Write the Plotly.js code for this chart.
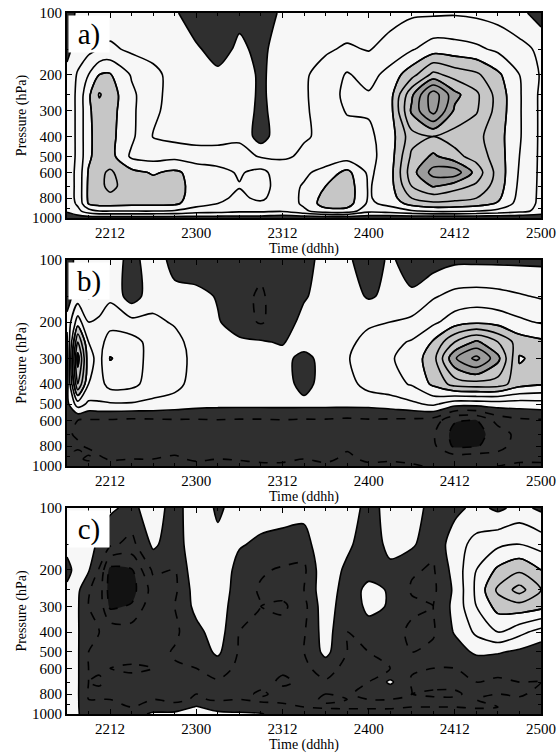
<!DOCTYPE html>
<html>
<head>
<meta charset="utf-8">
<script src="https://cdn.plot.ly/plotly-3.0.1.min.js"></script>
<style>
  html, body { margin: 0; padding: 0; background: #ffffff; }
  #chart { width: 557px; height: 753px; }
</style>
</head>
<body>
<div id="chart"></div>
<script>
// Time axis: hours after 2200 (ddhh), pressure levels in hPa
const hours = [6, 7.5, 9, 10.5, 12, 15, 18, 21, 24, 27, 30, 33, 36, 39, 42, 45, 48, 51, 54, 57, 60, 63, 66, 69, 72];
const pressure = [100, 150, 200, 250, 300, 400, 500, 600, 700, 800, 850, 925, 1000];

const timeTickHours = [12, 24, 36, 48, 60, 72];
const timeTickLabels = ['2212', '2300', '2312', '2400', '2412', '2500'];
const pressureTicks = [100, 200, 300, 400, 500, 600, 800, 1000];
const panelLabels = ['a)', 'b)', 'c)'];

// Each field: one column per entry of `hours`, values ordered as `pressure`
const fieldA = [
  [-0.8, -0.3, 0.3, 0.4, 0.4, 0.4, 0.4, 0.4, 0.4, 0.4, 0.3, 0.1, -0.5],
  [0.3, 0.5, 1.1, 1.2, 1.2, 1.2, 1.2, 1.3, 1.3, 1.3, 1.2, 0.7, -0.5],
  [0.3, 0.7, 2.0, 2.8, 2.8, 2.8, 2.8, 3.1, 3.2, 3.2, 3.1, 1.6, -0.5],
  [0.4, 1.05, 3.0, 4.1, 3.6, 3.4, 3.5, 3.8, 3.8, 3.6, 3.4, 2.0, -0.5],
  [0.3, 1.2, 3.1, 3.5, 3.4, 3.3, 3.4, 4.15, 4.2, 3.8, 3.4, 2.0, -0.5],
  [0.2, 0.8, 1.9, 2.2, 2.2, 2.2, 1.8, 3.3, 3.6, 3.5, 3.3, 2.0, -0.5],
  [0.2, 0.6, 1.3, 1.3, 1.2, 0.95, 1.6, 2.9, 3.4, 3.4, 3.3, 2.0, -0.5],
  [0.2, 0.4, 0.6, 0.6, 0.6, 0.7, 1.7, 3.2, 3.3, 3.3, 3.2, 1.9, -0.5],
  [-0.9, 0.2, 0.5, 0.5, 0.5, 0.6, 1.5, 2.6, 2.7, 2.6, 2.4, 1.5, -0.5],
  [-0.95, -0.6, 0.3, 0.5, 0.5, 0.6, 1.5, 2.3, 2.3, 2.2, 2.0, 1.4, -0.5],
  [-0.4, 0.3, 0.9, 0.9, 0.9, 0.8, 1.4, 1.9, 2.05, 1.8, 1.6, 1.2, -0.5],
  [-0.9, -0.4, -0.3, -0.3, -0.4, -0.5, 0.9, 2.3, 2.4, 2.2, 1.8, 1.2, -0.5],
  [0.3, 0.8, 0.9, 0.9, 0.9, 0.8, 0.9, 1.4, 1.5, 1.4, 1.3, 1.1, -0.7],
  [0.4, 0.8, 0.9, 0.9, 0.9, 0.95, 1.1, 1.8, 2.1, 2.2, 2.2, 1.8, -0.7],
  [0.4, 0.9, 1.3, 1.4, 1.3, 1.1, 1.3, 2.4, 3.0, 3.4, 3.5, 2.6, -0.7],
  [0.5, 1.1, 2.1, 2.3, 2.1, 1.5, 1.5, 3.3, 3.6, 3.6, 3.5, 2.6, -0.7],
  [0.6, 0.95, 1.6, 2.1, 2.1, 1.8, 1.7, 1.8, 1.9, 1.9, 1.8, 1.3, -0.7],
  [0.7, 1.3, 2.4, 2.6, 2.6, 2.5, 2.5, 2.6, 2.6, 2.5, 2.3, 1.5, -0.8],
  [0.85, 1.9, 3.6, 5.8, 6.2, 4.6, 5.2, 5.6, 5.0, 4.0, 3.4, 1.9, -0.8],
  [0.85, 2.5, 5.3, 8.6, 8.4, 5.0, 6.2, 7.4, 6.1, 4.5, 3.8, 2.2, -0.8],
  [0.9, 2.4, 4.6, 6.3, 5.8, 4.6, 5.3, 7.6, 5.4, 4.3, 3.7, 2.2, -0.8],
  [0.8, 2.2, 4.2, 5.2, 5.1, 4.3, 4.6, 5.6, 4.8, 4.0, 3.5, 2.0, -0.8],
  [0.6, 1.8, 3.2, 3.6, 3.6, 3.4, 3.5, 3.6, 3.5, 3.2, 2.9, 1.7, -0.8],
  [0.3, 1.3, 2.0, 2.1, 2.1, 2.1, 2.0, 1.9, 1.8, 1.7, 1.6, 1.3, -0.8],
  [-0.5, 0.8, 0.9, 0.8, 0.8, 0.8, 0.8, 0.8, 0.8, 0.8, 0.8, 0.7, -0.8]
];

const fieldB = [
  [-0.3, -0.3, 0.2, -0.2, -0.5, -0.5, -0.3, -0.8, -0.9, -0.9, -0.9, -0.8, -0.6],
  [0.2, 0.4, 2.5, 5.0, 6.5, 5.0, 1.5, -1.0, -1.1, -0.9, -1.05, -0.9, -0.6],
  [0.3, -0.1, 1.0, 2.0, 2.3, 2.0, 0.8, -1.1, -1.2, -1.1, -0.9, -1.1, -0.7],
  [0.5, 0.3, 1.2, 1.6, 1.7, 1.6, 0.9, -1.1, -1.0, -1.2, -1.1, -0.9, -0.7],
  [0.8, 0.8, 1.6, 2.5, 3.05, 2.4, 0.9, -1.1, -1.2, -1.1, -1.2, -1.05, -0.8],
  [-0.5, -0.5, 1.3, 2.4, 2.6, 2.3, 0.9, -1.2, -1.3, -1.2, -1.1, -1.0, -0.8],
  [0.8, 0.6, 1.2, 1.6, 1.5, 1.5, 0.8, -1.15, -1.2, -1.3, -1.2, -1.0, -0.8],
  [-0.5, 0.4, 0.9, 1.3, 1.4, 1.3, 0.6, -1.1, -1.3, -1.2, -1.1, -0.9, -0.8],
  [-0.9, 0.4, 0.5, 0.6, 0.7, 0.6, 0.4, -1.1, -1.2, -1.3, -1.2, -1.1, -0.8],
  [-0.2, -0.1, 0.1, 0.5, 0.6, 0.5, 0.3, -1.05, -1.2, -1.2, -1.1, -1.0, -0.8],
  [-0.8, -0.8, -0.6, 0.2, 0.5, 0.5, 0.3, -1.1, -1.3, -1.2, -1.1, -1.05, -0.8],
  [-0.8, -1.1, -1.1, 0.1, 0.5, 0.5, 0.3, -1.1, -1.2, -1.3, -1.2, -1.1, -0.9],
  [-0.6, -0.6, -0.5, -0.1, 0.4, 0.5, 0.3, -1.05, -1.1, -1.2, -1.2, -1.1, -0.9],
  [-0.3, -0.1, 0.3, 0.6, -0.4, -0.4, 0.3, -1.1, -1.2, -1.2, -1.1, -1.0, -0.8],
  [0.3, 0.4, 0.5, 0.5, 0.5, 0.5, 0.3, -1.1, -1.3, -1.2, -1.2, -1.1, -0.9],
  [0.3, 0.4, 0.5, 0.7, 0.9, 0.6, 0.3, -1.2, -1.3, -1.1, -1.0, -0.9, -0.8],
  [-0.9, -0.1, 0.8, 1.4, 1.7, 1.4, 0.3, -1.1, -1.2, -1.0, -1.2, -1.1, -0.9],
  [0.3, 0.2, 1.0, 1.7, 1.9, 1.6, 0.5, -1.15, -1.3, -1.2, -1.1, -1.05, -0.9],
  [-0.9, 0.3, 1.2, 2.1, 2.4, 2.1, 0.8, -1.2, -1.4, -1.3, -1.2, -1.1, -0.95],
  [-0.5, 0.9, 1.8, 3.1, 3.6, 3.2, 1.2, -1.4, -1.9, -1.8, -1.5, -1.2, -1.05],
  [-0.2, 1.3, 2.5, 5.0, 6.9, 4.4, 0.4, -2.9, -3.4, -3.2, -2.4, -1.4, -1.1],
  [-0.2, 1.4, 2.8, 6.2, 8.3, 4.6, 0.4, -3.05, -3.3, -3.1, -2.2, -1.5, -1.1],
  [-0.2, 1.3, 2.6, 5.0, 6.3, 4.5, 0.5, -1.6, -2.6, -2.4, -2.0, -1.3, -1.0],
  [-0.2, 1.1, 2.2, 3.5, 2.9, 3.4, 0.5, -1.2, -1.6, -1.5, -1.3, -1.1, -0.9],
  [-0.2, 0.9, 1.9, 3.2, 3.3, 3.1, 0.6, -1.1, -1.3, -1.3, -1.2, -1.1, -0.9]
];

const fieldC = [
  [0.5, 0.3, -0.3, 0.2, 0.5, 0.3, 0.5, 0.5, 0.5, 0.5, 0.5, 0.5, 0.3],
  [0.6, 0.5, 0.4, 0.2, 0.1, 0.1, 0.1, 0.1, 0.1, 0.1, 0.1, 0.1, 0.1],
  [0.6, 0.4, 0.1, -0.9, -1.0, -0.9, -1.0, -1.0, -1.0, -1.1, -1.0, -0.9, -0.6],
  [0.5, -0.2, -1.1, -1.5, -1.4, -1.0, -1.1, -1.1, -0.9, -1.2, -1.0, -0.8, -0.5],
  [0.2, -0.8, -3.3, -3.5, -3.2, -1.3, -1.2, -1.0, -1.2, -1.3, -1.0, -0.9, -0.4],
  [-0.3, -1.3, -3.1, -3.4, -2.9, -1.5, -1.3, -0.9, -1.2, -1.0, -1.3, -1.0, -0.5],
  [0.6, 0.2, -0.8, -1.6, -1.3, -1.1, -1.4, -1.0, -1.3, -1.2, -1.0, -0.6, 0.2],
  [-0.5, -0.6, -1.0, -1.2, -1.0, -1.2, -0.9, -1.1, -1.4, -1.1, -1.2, -0.7, 0.3],
  [0.8, 0.8, 0.7, 0.5, 0.3, -0.3, -0.6, -1.0, -1.2, -1.0, -0.9, 0.1, 0.3],
  [-0.2, 0.3, 0.8, 0.8, 0.7, 0.5, 0.2, -0.6, -1.1, -1.0, -1.1, -0.5, 0.3],
  [0.5, 0.1, -0.4, -0.6, -0.8, -1.0, -1.1, -1.2, -1.0, -1.2, -1.0, -0.6, 0.2],
  [0.5, -0.2, -0.9, -1.1, -1.0, -1.3, -1.1, -1.0, -1.2, -0.9, -1.1, -0.8, 0.1],
  [0.5, -0.4, -1.1, -1.2, -0.9, -1.2, -1.0, -1.1, -0.9, -1.2, -1.1, -0.9, -0.6],
  [0.4, -0.5, -1.2, -1.0, -1.3, -1.1, -1.0, -1.2, -1.1, -1.0, -1.2, -1.0, -0.7],
  [0.95, 0.95, 0.9, 0.8, 0.7, 0.5, 0.3, -0.6, -1.1, -1.0, -0.9, -1.1, -0.6],
  [0.8, 0.3, -0.3, -0.6, -0.8, -1.0, -1.0, -1.3, -1.1, -1.2, -1.0, -1.1, -0.7],
  [-0.5, -0.8, -0.4, 0.3, 0.3, -0.5, -1.0, -1.1, -1.0, -0.5, -1.0, -1.1, -0.7],
  [0.5, 0.4, -0.3, -0.1, -0.1, -0.6, -0.9, -1.0, 0.2, -0.8, -1.0, -1.1, -0.7],
  [0.5, 0.2, -0.9, -1.1, -0.8, -1.2, -1.0, -0.9, -1.1, -1.0, -1.2, -1.0, -0.7],
  [-0.4, -0.8, -1.1, -1.2, -1.0, -1.1, -0.8, -1.0, -1.2, -0.9, -1.1, -1.0, -0.6],
  [-0.3, 0.6, 0.4, 0.2, 0.3, 0.1, -0.5, -1.0, -1.2, -0.9, -1.1, -1.0, -0.6],
  [0.3, 1.3, 2.0, 2.2, 2.0, 1.2, 0.2, -0.8, -1.0, -1.2, -1.0, -1.1, -0.6],
  [-0.2, 1.8, 3.2, 4.2, 3.4, 2.0, 0.1, -0.8, -1.1, -1.0, -0.8, -1.0, -0.6],
  [0.3, 2.0, 3.8, 5.4, 3.6, 1.3, -0.2, -0.6, -1.0, -1.1, -0.9, -0.8, -0.6],
  [-0.2, 1.6, 3.0, 4.0, 3.3, 0.6, -0.6, -0.8, -1.0, -0.8, -1.0, -0.7, -0.6]
];

const fields = [fieldA, fieldB, fieldC];

const SERIF = 'Liberation Serif';
const SMOOTH = 0.8;
const LINE_W = 1.6;

// Shading: the constraint trace shades the region that fails the test,
// so "shade below v" uses '>' and "shade above v" uses '<'.
function shadeTrace(z, xa, ya, side, value, color, dash) {
  return {
    type: 'contour', x: hours, y: pressure, z: z, transpose: true,
    xaxis: xa, yaxis: ya, showscale: false, hoverinfo: 'skip',
    contours: { type: 'constraint', operation: side === 'below' ? '>' : '<', value: value },
    fillcolor: color,
    line: { color: '#000000', width: LINE_W, dash: dash || 'solid', smoothing: SMOOTH }
  };
}

function lineTrace(z, xa, ya, start, end, dash) {
  return {
    type: 'contour', x: hours, y: pressure, z: z, transpose: true,
    xaxis: xa, yaxis: ya, showscale: false, hoverinfo: 'skip',
    autocontour: false,
    contours: { coloring: 'none', start: start, end: end, size: 1, showlabels: false },
    line: { color: '#000000', width: LINE_W, dash: dash, smoothing: SMOOTH }
  };
}

const traces = [];
fields.forEach((z, i) => {
  const xa = i === 0 ? 'x' : 'x' + (i + 1);
  const ya = i === 0 ? 'y' : 'y' + (i + 1);
  traces.push(shadeTrace(z, xa, ya, 'below', 0, '#2f2f2f', 'solid'));
  traces.push(shadeTrace(z, xa, ya, 'below', -3, '#121212', 'dash'));
  traces.push(shadeTrace(z, xa, ya, 'above', 3, '#c6c6c6', 'solid'));
  traces.push(shadeTrace(z, xa, ya, 'above', 6, '#9b9b9b', 'solid'));
  traces.push(lineTrace(z, xa, ya, 1, 9, 'solid'));
  traces.push(lineTrace(z, xa, ya, -2, -1, 'dash'));
});

function xAxis(anchor) {
  return {
    anchor: anchor, domain: [0, 1], range: [6, 72],
    tickmode: 'array', tickvals: timeTickHours, ticktext: timeTickLabels,
    ticks: 'inside', ticklen: 5, tickwidth: 1, tickcolor: '#000',
    minor: { tickmode: 'linear', tick0: 0, dtick: 3, ticks: 'inside', ticklen: 3, tickcolor: '#000' },
    showline: true, linecolor: '#000', linewidth: 2, mirror: 'ticks',
    showgrid: false, zeroline: false,
    tickfont: { family: SERIF, size: 15, color: '#000' },
    title: { text: 'Time (ddhh)', font: { family: SERIF, size: 14, color: '#000' }, standoff: 0 }
  };
}

function yAxis(anchor, domain) {
  return {
    anchor: anchor, domain: domain, type: 'log', range: [3, 2],
    tickmode: 'array', tickvals: pressureTicks, ticktext: pressureTicks.map(String),
    ticks: 'inside', ticklen: 5, tickwidth: 1, tickcolor: '#000',
    minor: { tickmode: 'array', tickvals: [150, 250, 700, 900], ticks: 'inside', ticklen: 3, tickcolor: '#000' },
    showline: true, linecolor: '#000', linewidth: 2, mirror: 'ticks',
    showgrid: false, zeroline: false,
    tickfont: { family: SERIF, size: 15, color: '#000' },
    title: { text: 'Pressure (hPa)', font: { family: SERIF, size: 14, color: '#000' }, standoff: 2 }
  };
}

const annotations = panelLabels.map((label, i) => ({
  xref: (i === 0 ? 'x' : 'x' + (i + 1)) + ' domain',
  yref: (i === 0 ? 'y' : 'y' + (i + 1)) + ' domain',
  x: 0.002, y: 0.99, xanchor: 'left', yanchor: 'top',
  text: label, showarrow: false,
  font: { family: SERIF, size: 29, color: '#000' },
  width: 40, height: 36, align: 'center', valign: 'middle',
  bgcolor: '#ffffff', borderpad: 0
}));

const layout = {
  width: 557, height: 753,
  margin: { l: 67, r: 16, t: 0, b: 0 },
  paper_bgcolor: '#ffffff',
  plot_bgcolor: '#f7f7f7',
  showlegend: false,
  xaxis: xAxis('y'), yaxis: yAxis('x', [0.7105, 0.9827]),
  xaxis2: xAxis('y2'), yaxis2: yAxis('x2', [0.3811, 0.6547]),
  xaxis3: xAxis('y3'), yaxis3: yAxis('x3', [0.0518, 0.3254]),
  annotations: annotations
};

Plotly.newPlot('chart', traces, layout, { staticPlot: true, displayModeBar: false });
</script>
</body>
</html>
